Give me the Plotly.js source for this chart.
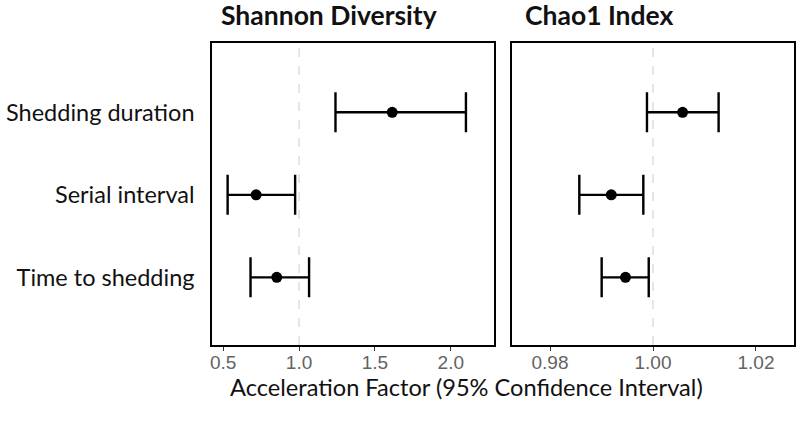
<!DOCTYPE html>
<html>
<head>
<meta charset="utf-8">
<script src="https://cdn.plot.ly/plotly-3.0.1.min.js"></script>
<style>html,body{margin:0;padding:0;background:#fff;}#chart{width:800px;height:432px;}</style>
</head>
<body>
<div id="chart"></div>
<script>
var categories = ["Shedding duration", "Serial interval", "Time to shedding"];
var panelTitles = ["Shannon Diversity", "Chao1 Index"];
var xAxisTitle = "Acceleration Factor (95% Confidence Interval)";

var shannonEst   = [1.614, 0.717, 0.853];
var shannonLower = [1.240, 0.529, 0.680];
var shannonUpper = [2.100, 0.974, 1.066];

var chaoEst   = [1.00575, 0.99190, 0.99466];
var chaoLower = [0.99883, 0.98569, 0.99003];
var chaoUpper = [1.01274, 0.99812, 0.99917];

var shannonTicks = [0.5, 1.0, 1.5, 2.0];
var shannonTickText = ["0.5", "1.0", "1.5", "2.0"];
var chaoTicks = [0.98, 1.00, 1.02];
var chaoTickText = ["0.98", "1.00", "1.02"];
var refValue = 1;

function diff(a, b) { return a.map(function (v, i) { return v - b[i]; }); }

var labelFont = "Lato, 'Open Sans', sans-serif";
var tickFont = "'Liberation Sans', Arial, sans-serif";

function makeTrace(est, lo, hi, xa, ya) {
  return {
    type: "scatter", mode: "markers",
    x: est, y: categories, xaxis: xa, yaxis: ya,
    marker: {color: "#000", size: 11},
    error_x: {type: "data", symmetric: false,
      array: diff(hi, est), arrayminus: diff(est, lo),
      color: "#000", thickness: 2.4, width: 20},
    hoverinfo: "x+y", showlegend: false
  };
}

var data = [
  makeTrace(shannonEst, shannonLower, shannonUpper, "x", "y"),
  makeTrace(chaoEst, chaoLower, chaoUpper, "x2", "y2")
];

var yRange = [2.82, -0.84];
var frame = {showline: true, mirror: true, linecolor: "#000", linewidth: 1.8, zeroline: false, showgrid: false};
var xtick = {ticks: "outside", ticklen: 4, tickwidth: 1, tickcolor: "#333", ticklabelstandoff: -5,
  tickfont: {family: tickFont, size: 19, color: "#636363"}};

var layout = {
  width: 800, height: 432,
  margin: {l: 0, r: 0, t: 43, b: 87},
  paper_bgcolor: "#fff", plot_bgcolor: "#fff",
  xaxis: Object.assign({}, frame, xtick, {domain: [0.265, 0.6175], range: [0.426, 2.285],
    tickvals: shannonTicks, ticktext: shannonTickText, anchor: "y"}),
  xaxis2: Object.assign({}, frame, xtick, {domain: [0.64, 0.9925], range: [0.97262, 1.02738],
    tickvals: chaoTicks, ticktext: chaoTickText, anchor: "y2"}),
  yaxis: Object.assign({}, frame, {domain: [0, 1], type: "category", range: yRange,
    ticks: "", ticklabelstandoff: 11, tickfont: {family: labelFont, size: 23.5, color: "#111"}, anchor: "x"}),
  yaxis2: Object.assign({}, frame, {domain: [0, 1], type: "category", range: yRange,
    showticklabels: false, ticks: "", anchor: "x2"}),
  shapes: [
    {type: "line", xref: "x", yref: "paper", x0: refValue, x1: refValue, y0: 0, y1: 1,
     line: {color: "#cccccc", width: 1, dash: "dash"}, layer: "below"},
    {type: "line", xref: "x2", yref: "paper", x0: refValue, x1: refValue, y0: 0, y1: 1,
     line: {color: "#cccccc", width: 1, dash: "dash"}, layer: "below"}
  ],
  annotations: [
    {text: "<b>" + panelTitles[0] + "</b>", xref: "paper", yref: "paper", x: 219 / 800, y: 1, yshift: 28,
     xanchor: "left", yanchor: "middle", showarrow: false, font: {family: labelFont, size: 26.5, color: "#111"}},
    {text: "<b>" + panelTitles[1] + "</b>", xref: "paper", yref: "paper", x: 523 / 800, y: 1, yshift: 28,
     xanchor: "left", yanchor: "middle", showarrow: false, font: {family: labelFont, size: 26.5, color: "#111"}},
    {text: xAxisTitle, xref: "paper", yref: "paper", x: 466 / 800, y: 0, yshift: -42,
     xanchor: "center", yanchor: "middle", showarrow: false, font: {family: labelFont, size: 23.6, color: "#111"}}
  ]
};

Plotly.newPlot("chart", data, layout, {displayModeBar: false, staticPlot: true});
</script>
</body>
</html>
